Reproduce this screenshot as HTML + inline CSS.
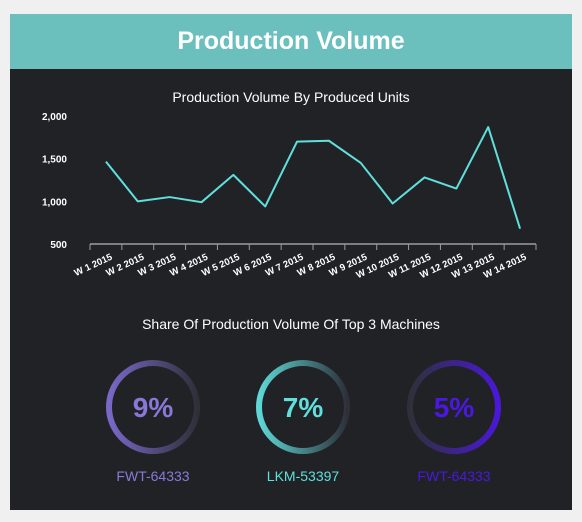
<!DOCTYPE html>
<html><head><meta charset="utf-8"><style>
body{margin:0;width:582px;height:522px;background:#f0f0f0;font-family:"Liberation Sans",sans-serif;overflow:hidden}
#hdr{position:absolute;left:10px;top:14px;width:562px;height:55px;background:#6bbfbd;color:#fff;font-size:25px;font-weight:bold;text-align:center;line-height:55px;border-bottom:1px solid #4fb3b0}
#panel{position:absolute;left:10px;top:69px;width:562px;height:441px;background:#212226}
svg{position:absolute;left:0;top:0}
</style></head><body>
<div id="hdr">Production Volume</div>
<div id="panel"></div>
<svg id="s" width="582" height="522">
<defs>
<linearGradient id="g0" x1="0" y1="0" x2="1" y2="0"><stop offset="0" stop-color="#7a68c8"/><stop offset="1" stop-color="#2e3039"/></linearGradient>
<linearGradient id="g1" x1="0" y1="0" x2="1" y2="0"><stop offset="0" stop-color="#5ed8d6"/><stop offset="1" stop-color="#2e3039"/></linearGradient>
<linearGradient id="g2" x1="1" y1="0" x2="0" y2="0"><stop offset="0" stop-color="#4a18d8"/><stop offset="1" stop-color="#2e3039"/></linearGradient>
</defs>
<text x="291" y="102" fill="#fff" font-size="14" text-anchor="middle">Production Volume By Produced Units</text>
<text x="291" y="329" fill="#fff" font-size="14" text-anchor="middle">Share Of Production Volume Of Top 3 Machines</text>
</svg>
<script>
const categories=["W 1 2015","W 2 2015","W 3 2015","W 4 2015","W 5 2015","W 6 2015","W 7 2015","W 8 2015","W 9 2015","W 10 2015","W 11 2015","W 12 2015","W 13 2015","W 14 2015"];
const values=[1465,1000,1050,990,1310,940,1700,1710,1450,975,1280,1150,1870,680];
const yTicks=[500,1000,1500,2000];
const yTickLabels=["500","1,000","1,500","2,000"];
const gaugeNames=["FWT-64333","LKM-53397","FWT-64333"];
const gaugeValues=[9,7,5];
const NS="http://www.w3.org/2000/svg",s=document.getElementById('s');
function mk(t,a,txt){const e=document.createElementNS(NS,t);for(const k in a)e.setAttribute(k,a[k]);if(txt!=null)e.textContent=txt;s.appendChild(e);return e;}
const x0=90,x1=536,step=(x1-x0)/categories.length;
const xs=i=>x0+step*(i+0.5);
const ys=v=>244-(v-500)/1500*128;
yTicks.forEach((t,i)=>{const e=mk('text',{x:67,y:ys(t)+4,fill:'#fff','font-size':10,'font-weight':'bold','text-anchor':'end'},yTickLabels[i]);

});
const ax=mk('line',{x1:x0,x2:x1,y1:244,y2:244,stroke:'#9a9ca4','stroke-width':1.5});


for(let i=0;i<=categories.length;i++){const tk=mk('line',{x1:x0+step*i,x2:x0+step*i,y1:244,y2:250,stroke:'#9a9ca4','stroke-width':1});

}
categories.forEach((c,i)=>{const cx=xs(i)+7,cy=259;const e=mk('text',{x:cx,y:cy,fill:'#fff','font-size':9.5,'font-weight':'bold','text-anchor':'end',transform:`rotate(-25 ${cx} ${cy})`},c);

});
const ln=mk('polyline',{points:values.map((v,i)=>xs(i)+','+ys(v)).join(' '),fill:'none',stroke:'#5fe0dc','stroke-width':2,'stroke-linejoin':'round'});


const gx=[153,303,454],gc=['#8a78d8','#5fe0dc','#4a18e0'];
gaugeValues.forEach((v,i)=>{
const tr=mk('circle',{cx:gx[i],cy:407,r:44,fill:'none',stroke:'#2e3039','stroke-width':6});


const ar=mk('circle',{cx:gx[i],cy:407,r:44,fill:'none',stroke:`url(#g${i})`,'stroke-width':6});


const t=mk('text',{x:gx[i],y:417,fill:gc[i],'font-size':28,'font-weight':'bold','text-anchor':'middle'},v+'%');


const n=mk('text',{x:gx[i],y:481,fill:gc[i],'font-size':14,'text-anchor':'middle'},gaugeNames[i]);


});
</script>
</body></html>
